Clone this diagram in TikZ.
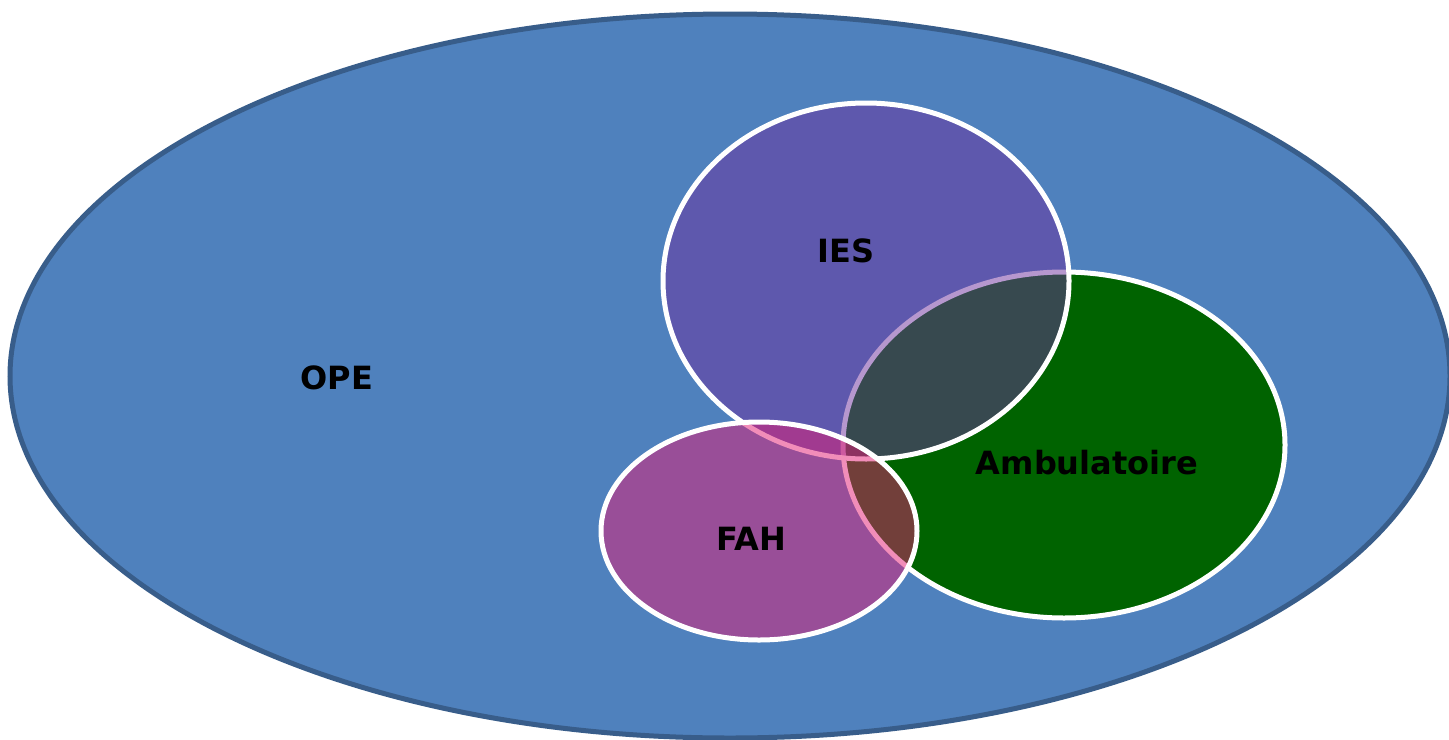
\documentclass[tikz,border=0pt]{standalone}
\usepackage{fontspec}
\setmainfont{DejaVu Sans}
\definecolor{opefill}{RGB}{79,129,189}
\definecolor{opeline}{RGB}{56,93,138}
\definecolor{iesfill}{RGB}{110,49,158}
\definecolor{ambfill}{RGB}{0,99,0}
\definecolor{fahfill}{RGB}{228,29,116}
\tikzset{
  setline/.style={draw=white,line width=2.5pt},
  lbl/.style={font=\bfseries\fontsize{16}{19}\selectfont,text=black},
}
\begin{document}
\begin{tikzpicture}[x=0.5pt,y=-0.5pt]
\useasboundingbox (0,0) rectangle (1449,739);
\clip (0,0) rectangle (1449,739);
\fill[white] (0,0) rectangle (1449,739);
% OPE
\draw[fill=opefill,draw=opeline,line width=2.5pt] (730,376) ellipse [x radius=720,y radius=362];
% Ambulatoire
\draw[setline,fill=ambfill] (1064,445) ellipse [x radius=221,y radius=173];
% IES
\draw[setline,fill=iesfill,fill opacity=0.5] (866,281) ellipse [x radius=203,y radius=178];
% FAH
\draw[setline,fill=fahfill,fill opacity=0.5] (759,531) ellipse [x radius=158,y radius=109];
\node[lbl] (ope) at (337,378) {OPE};
\node[lbl] (ies) at (846,251) {IES};
\node[lbl] (amb) at (1087,463) {Ambulatoire};
\node[lbl] (fah) at (751,539) {FAH};
\end{tikzpicture}
\end{document}
